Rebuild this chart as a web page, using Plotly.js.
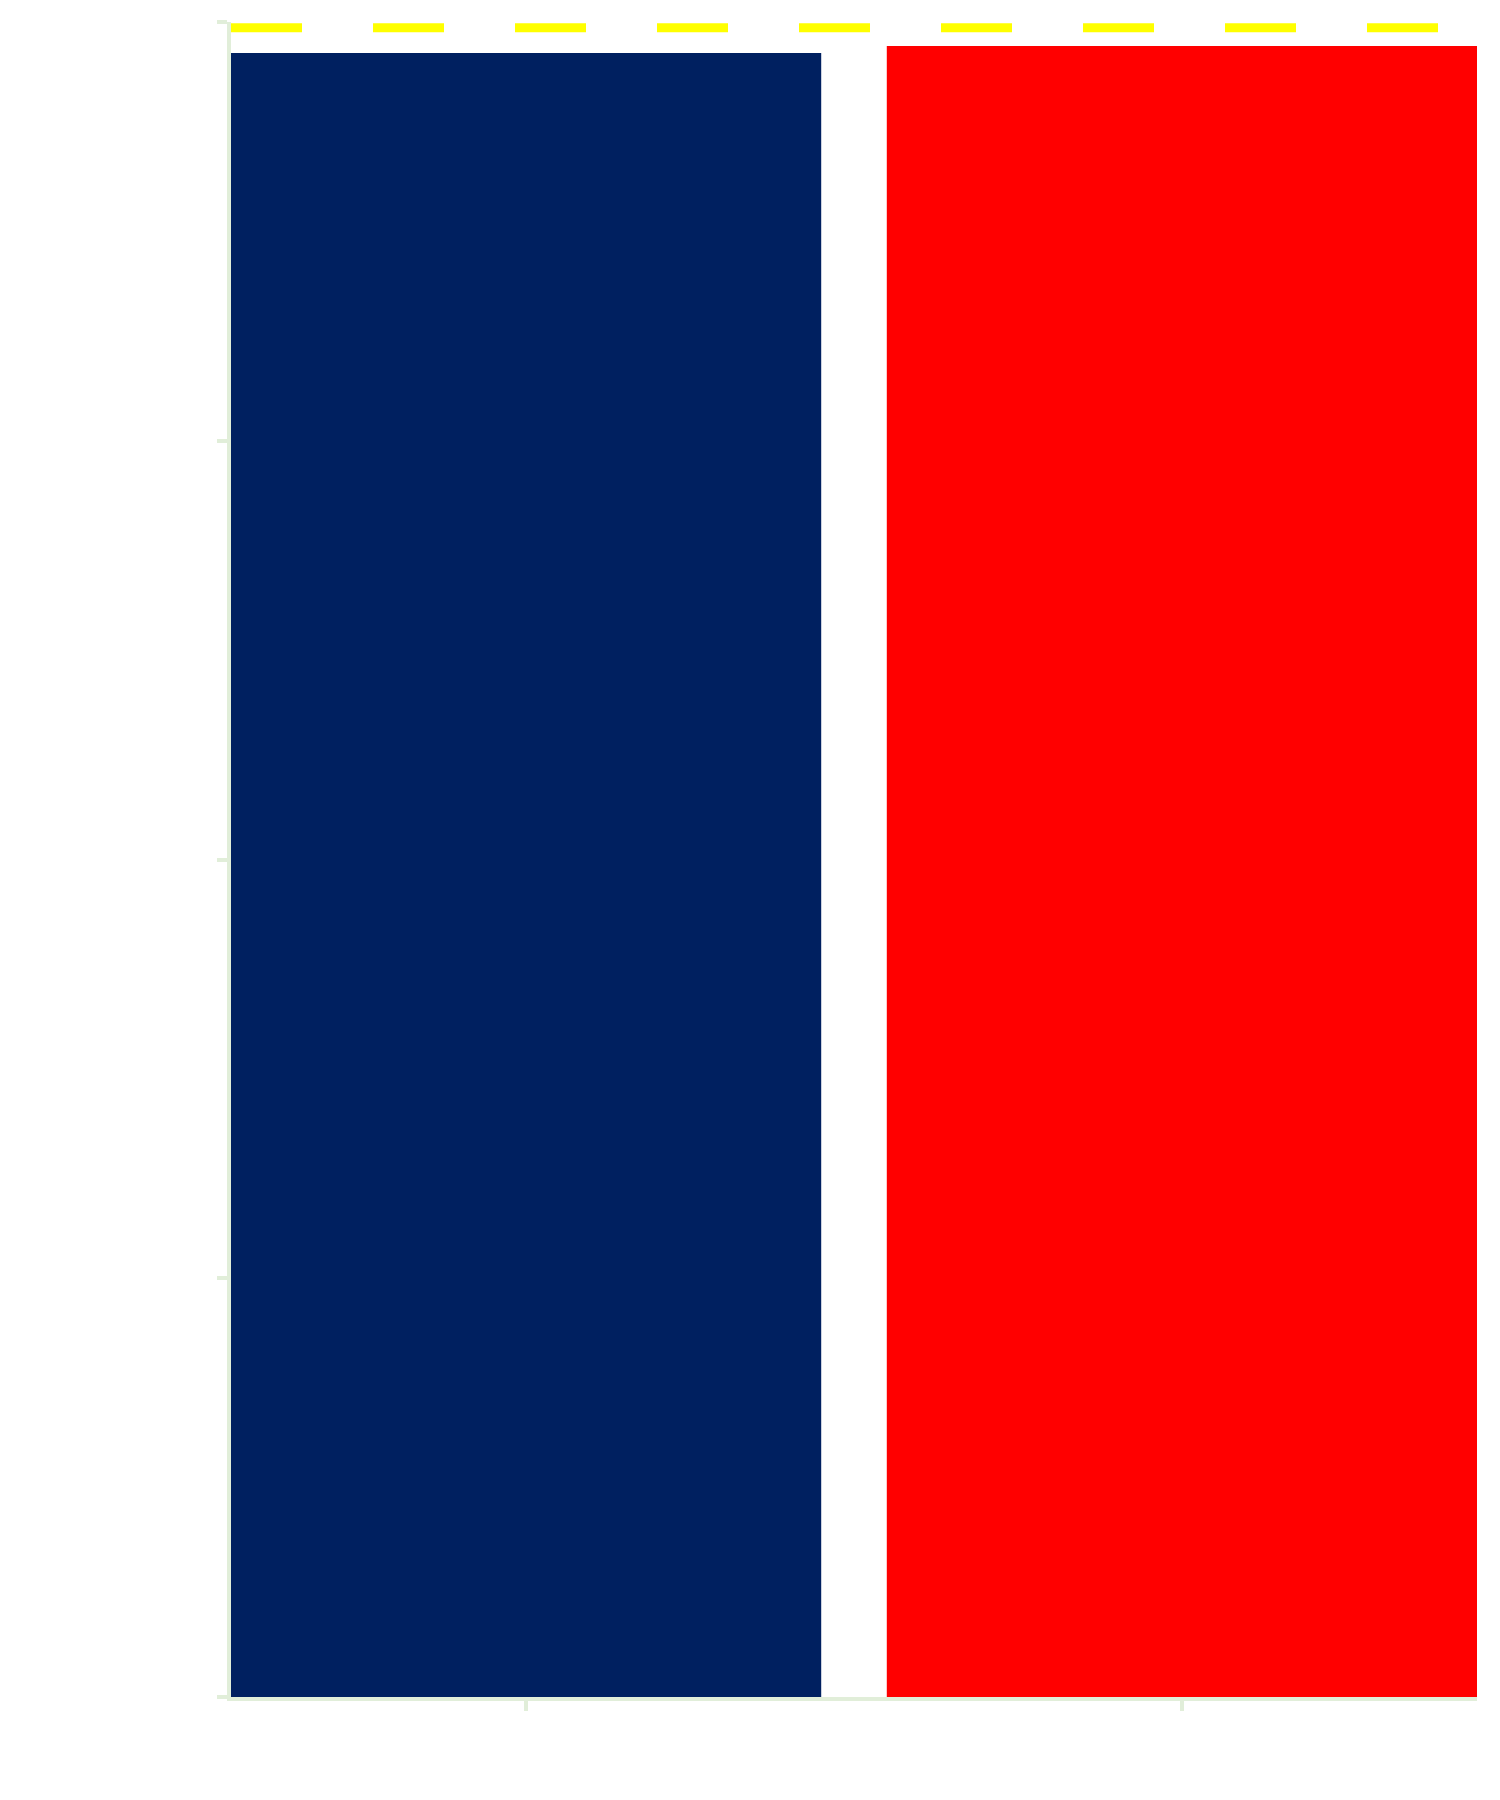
<!DOCTYPE html>
<html>
<head>
<meta charset="utf-8">
<script src="https://cdn.plot.ly/plotly-3.0.1.min.js"></script>
<style>html,body{margin:0;padding:0;background:#fff;}</style>
</head>
<body>
<div id="chart" style="width:1500px;height:1800px;"></div>
<script>
const categories = ["A", "B"];
const values = [98.15, 98.57];
const barColors = ["#002060", "#ff0000"];
const targetValue = [99.65];
const yTicks = [0, 25, 50, 75, 100];

const axisColor = "#e1eed9";

const data = [{
  type: "bar",
  x: categories,
  y: values,
  marker: {color: barColors, line: {width: 0}},
  showlegend: false,
  hoverinfo: "x+y"
}];

const layout = {
  width: 1500,
  height: 1800,
  margin: {l: 231, r: 23, t: 22, b: 103, pad: 0},
  paper_bgcolor: "#ffffff",
  plot_bgcolor: "#ffffff",
  bargap: 0.1,
  showlegend: false,
  xaxis: {
    type: "category",
    range: [-0.45, categories.length - 0.55],
    showgrid: false,
    zeroline: false,
    showline: true,
    linecolor: axisColor,
    linewidth: 4,
    ticks: "outside",
    ticklen: 10,
    tickwidth: 4,
    tickcolor: axisColor,
    showticklabels: false
  },
  yaxis: {
    range: [yTicks[0], yTicks[yTicks.length - 1]],
    tickvals: yTicks,
    showgrid: false,
    zeroline: false,
    showline: true,
    linecolor: axisColor,
    linewidth: 4,
    ticks: "outside",
    ticklen: 10,
    tickwidth: 4,
    tickcolor: axisColor,
    showticklabels: false
  },
  shapes: [{
    type: "line",
    xref: "paper", yref: "y",
    x0: 0, x1: 1,
    y0: targetValue[0], y1: targetValue[0],
    line: {color: "#ffff00", width: 9, dash: "71px,71px"}
  }]
};

Plotly.newPlot("chart", data, layout, {displayModeBar: false, staticPlot: true});
</script>
</body>
</html>
